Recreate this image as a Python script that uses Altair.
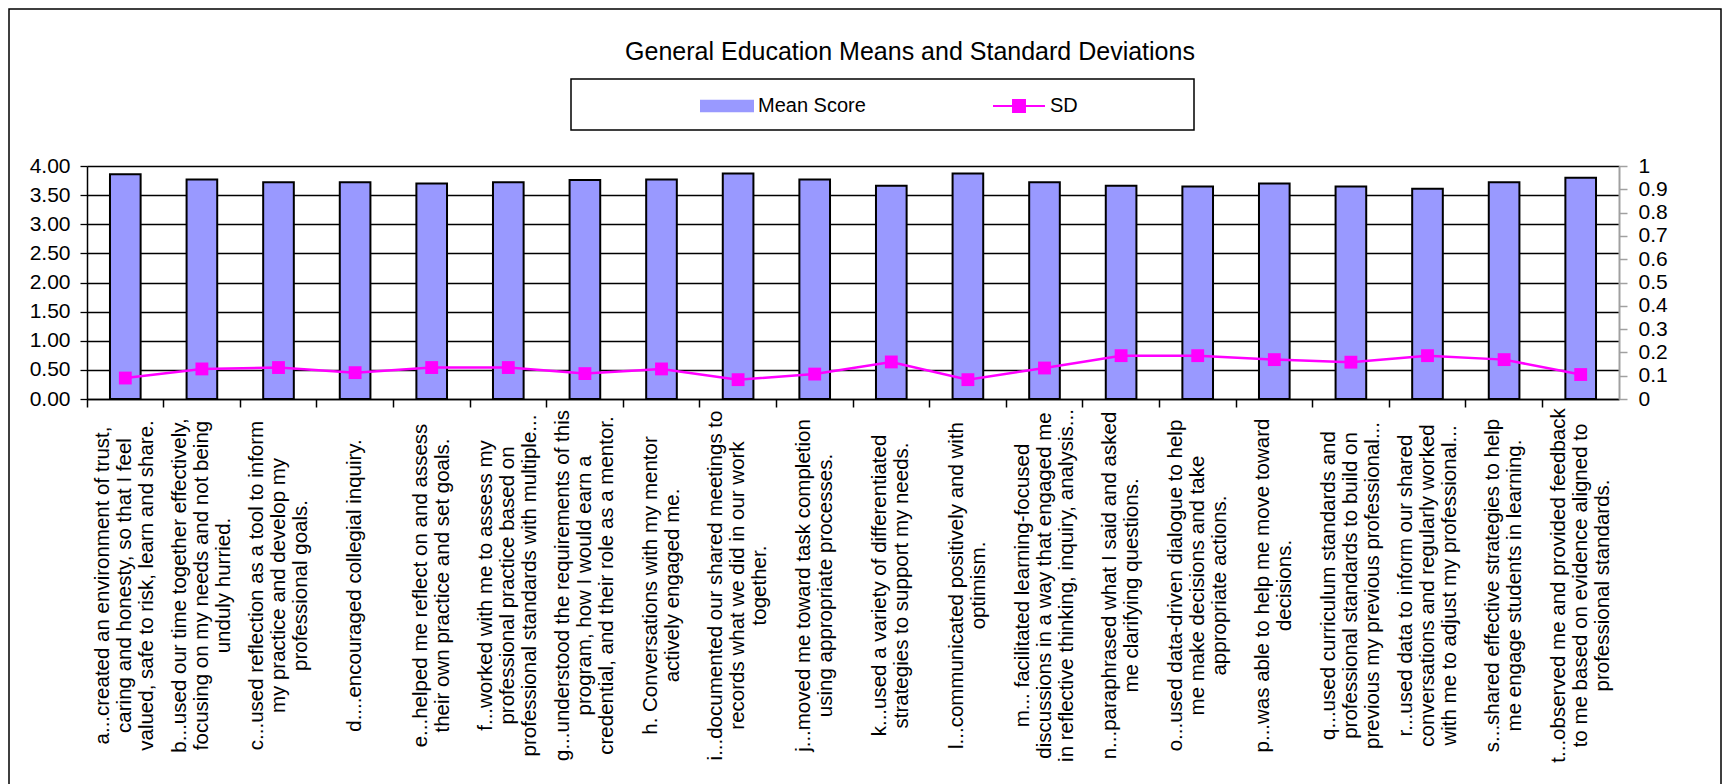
import altair as alt
import pandas as pd

# Survey items (axis labels are wrapped at "|")
items = [
    "a...created an environment of trust,|caring and honesty, so that I feel|valued, safe to risk, learn and share.",
    "b...used our time together effectively,|focusing on my needs and not being|unduly hurried.",
    "c...used reflection as a tool to inform|my practice and develop my|professional goals.",
    "d....encouraged collegial inquiry.",
    "e...helped me reflect on and assess|their own practice and set goals.",
    "f...worked with me to assess my|professional practice based on|professional standards with multiple...",
    "g...understood the requirements of this|program, how I would earn a|credential, and their role as a mentor.",
    "h.  Conversations with my mentor|actively engaged me.",
    "i...documented our shared meetings to|records what we did in our work|together.",
    "j...moved me toward task completion|using appropriate processes.",
    "k...used a variety of differentiated|strategies to support my needs.",
    "l...communicated positively and with|optimism.",
    "m... facilitated learning-focused|discussions in a way that engaged me|in reflective thinking, inquiry, analysis...",
    "n...paraphrased what I said and asked|me clarifying questions.",
    "o...used data-driven dialogue to help|me make decisions and take|appropriate actions.",
    "p...was able to help me move toward|decisions.",
    "q...used curriculum standards and|professional standards to build on|previous my previous professional...",
    "r...used data to inform our shared|conversations and regularly worked|with me to adjust my professional...",
    "s...shared effective strategies to help|me engage students in learning.",
    "t...observed me and provided feedback|to me based on evidence aligned to|professional standards.",
]

mean_score = [3.86, 3.77, 3.72, 3.72, 3.70, 3.72, 3.76, 3.77, 3.87, 3.77,
              3.66, 3.87, 3.72, 3.66, 3.65, 3.70, 3.65, 3.61, 3.72, 3.80]

sd = [0.090, 0.129, 0.135, 0.113, 0.135, 0.135, 0.109, 0.129, 0.083, 0.107,
      0.159, 0.083, 0.133, 0.186, 0.186, 0.169, 0.158, 0.186, 0.169, 0.105]

mean_ticks = [0.0, 0.5, 1.0, 1.5, 2.0, 2.5, 3.0, 3.5, 4.0]
sd_ticks = [0, 0.1, 0.2, 0.3, 0.4, 0.5, 0.6, 0.7, 0.8, 0.9, 1]

series = ["Mean Score", "SD"]
series_colors = ["#9999FF", "#FF00FF"]

df = pd.DataFrame({"item": items, "mean": mean_score, "sd": sd})
box_df = pd.DataFrame({"k": [0]})

FONT = "Liberation Sans"
PLOT_W = 1532
PLOT_H = 233
LINE_H = 22

# legend swatches: a flat bar for the mean, a line with a square marker for SD
BAR_SWATCH = "M-1,-0.2H1V0.2H-1Z"
LINE_SWATCH = "M-1,0H1M-0.23,-0.23H0.23V0.23H-0.23Z"

# wrapped labels: shift each block so its lines sit centred on the bar
n_lines = "length(split(datum.label, '|'))"
label_shift = alt.ConditionalAxisNumber(
    condition=[
        {"test": f"{n_lines} == 3", "value": -LINE_H},
        {"test": f"{n_lines} == 2", "value": -LINE_H / 2},
    ],
    value=0,
)

x_enc = alt.X(
    "item:N",
    sort=None,
    scale=alt.Scale(paddingInner=0, paddingOuter=0),
    axis=alt.Axis(
        title=None,
        bandPosition=0,
        labelOffset=label_shift,
        labelAngle=270,
        labelAlign="center",
        labelBaseline="middle",
        labelPadding=178,
        labelLineHeight=LINE_H,
        labelFont=FONT,
        labelFontSize=20.5,
        labelColor="black",
        labelLimit=0,
        labelOverlap=False,
        labelExpr="split(datum.label, '|')",
        tickSize=8,
        tickColor="black",
        tickWidth=1.5,
        domainColor="black",
        domainWidth=1.5,
    ),
)

color_scale = alt.Scale(domain=series, range=series_colors)

legend = alt.Legend(
    orient="none",
    legendX=613,
    legendY=-87,
    direction="horizontal",
    columns=2,
    columnPadding=123,
    padding=0,
    labelFont=FONT,
    labelFontSize=20,
    labelColor="black",
    labelOffset=4,
    symbolSize=2704,
    symbolStrokeWidth=2,
    symbolStrokeColor=alt.ExprRef(
        expr="datum.value === 'SD' ? '#FF00FF' : 'black'"
    ),
    symbolType=alt.ExprRef(
        expr=f"datum.value === 'SD' ? '{LINE_SWATCH}' : '{BAR_SWATCH}'"
    ),
)

color_enc = alt.Color("series:N", scale=color_scale, legend=legend, title=None)

bars = alt.Chart(df).transform_calculate(
    series="'Mean Score'"
).mark_bar(
    width=alt.RelativeBandSize(band=0.4), stroke="black", strokeWidth=2
).encode(
    x=x_enc,
    y=alt.Y(
        "mean:Q",
        scale=alt.Scale(domain=[0, 4], nice=False),
        axis=alt.Axis(
            title=None,
            values=mean_ticks,
            format=".2f",
            grid=True,
            gridColor="black",
            gridWidth=1.3,
            domainColor="black",
            domainWidth=1.5,
            tickColor="black",
            tickWidth=1.3,
            tickSize=7,
            labelFont=FONT,
            labelFontSize=21,
            labelColor="black",
            labelPadding=10,
        ),
    ),
    color=color_enc,
)

sd_line = alt.Chart(df).transform_calculate(
    series="'SD'"
).mark_line(
    strokeWidth=2.5,
    point=alt.OverlayMarkDef(shape="square", size=165, filled=True, opacity=1),
).encode(
    x=x_enc,
    y=alt.Y(
        "sd:Q",
        scale=alt.Scale(domain=[0, 1], nice=False),
        axis=alt.Axis(
            title=None,
            orient="right",
            values=sd_ticks,
            format="~g",
            grid=False,
            domainColor="#A0A0A0",
            domainWidth=2,
            tickColor="#A0A0A0",
            tickWidth=1.5,
            tickSize=8,
            labelFont=FONT,
            labelFontSize=21,
            labelColor="black",
            labelPadding=11,
        ),
    ),
    color=color_enc,
)

# thin border around the whole chart
chart_border = alt.Chart(box_df).mark_rect(
    filled=False, stroke="black", strokeWidth=1.5
).encode(
    x=alt.value(-78), x2=alt.value(1634), y=alt.value(-157), y2=alt.value(634)
)

# box drawn around the legend entries
legend_box = alt.Chart(box_df).mark_rect(
    fill="white", stroke="black", strokeWidth=1.5
).encode(
    x=alt.value(484), x2=alt.value(1107), y=alt.value(-87), y2=alt.value(-36)
)

chart = (
    alt.layer(chart_border, legend_box, bars, sd_line)
    .resolve_scale(y="independent")
    .properties(
        width=PLOT_W,
        height=PLOT_H,
        padding={"left": 8, "top": 8, "right": 0, "bottom": 0},
        title=alt.TitleParams(
            text="General Education Means and Standard Deviations",
            font=FONT,
            fontSize=25,
            fontWeight="normal",
            color="black",
            anchor="middle",
            frame="group",
            dx=57,
            offset=-57,
        ),
    )
    .configure_view(stroke="transparent")
)

chart.save("out.html", embed_options={"renderer": "svg", "actions": False})
